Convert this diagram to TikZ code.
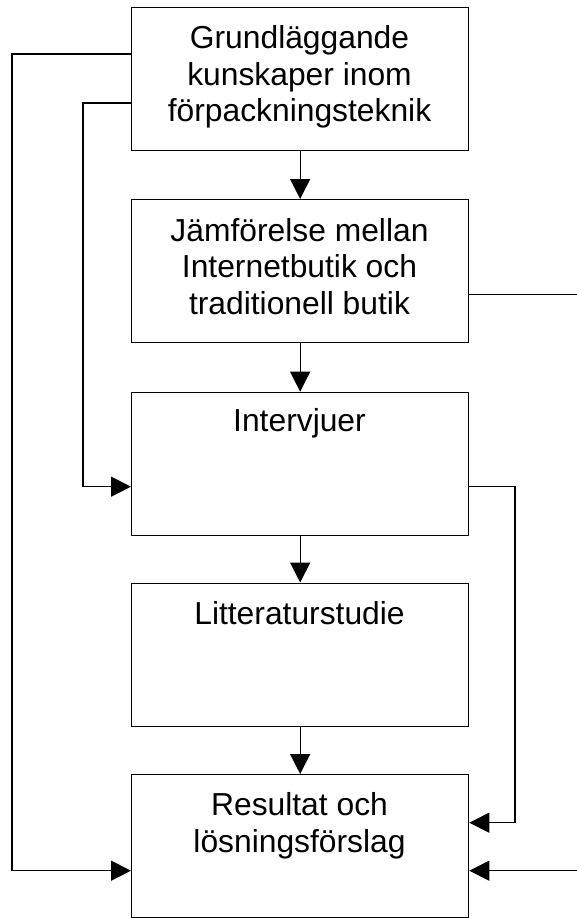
\documentclass[tikz,border=0pt]{standalone}
\usepackage{fontspec}
\setmainfont{Liberation Sans}
\usetikzlibrary{arrows.meta}
\begin{document}
\begin{tikzpicture}[x=1pt,y=-1pt,
  stage/.style={draw, line width=1.3pt, minimum width=337pt, minimum height=143pt,
                inner sep=0pt, anchor=north west},
  caption/.style={anchor=base, align=center, inner sep=0pt,
                  font=\fontsize{31.8}{36.7}\selectfont},
  link/.style={line width=1.3pt},
  flow/.style={link, -{Triangle[length=20pt,width=20pt]}}]
\useasboundingbox (0,0) rectangle (577,918);

% process stages
\node[stage] (b1) at (131,7) {};
\node[stage] (b2) at (131,199) {};
\node[stage] (b3) at (131,391.7) {};
\node[stage] (b4) at (131,582.5) {};
\node[stage] (b5) at (131,774) {};

% stage captions (base anchor = baseline of the last line)
\node[caption] (t1) at (299.5,121.8) {Grundläggande\\kunskaper inom\\förpackningsteknik};
\node[caption] (t2) at (299.5,314.5) {Jämförelse mellan\\Internetbutik och\\traditionell butik};
\node[caption] (t3) at (299.5,431.7) {Intervjuer};
\node[caption] (t4) at (299.5,624) {Litteraturstudie};
\node[caption] (t5) at (299.5,852.5) {Resultat och\\lösningsförslag};

% main sequence
\draw[flow] (b1.south) -- (b2.north);
\draw[flow] (b2.south) -- (b3.north);
\draw[flow] (b3.south) -- (b4.north);
\draw[flow] (b4.south) -- (b5.north);

% side lanes
\coordinate (lo) at (12,54);
\coordinate (li) at (83,103);
\coordinate (ro) at (577,294.3);
\coordinate (ri) at (515,486.7);
\coordinate (rd) at (515,822.7);
\coordinate (re) at (577,870.7);

\draw[flow] (b1.west |- lo) -- (lo) |- (b5.west |- re);
\draw[flow] (b1.west |- li) -- (li) |- (b3.west |- ri);
\draw[link] (b2.east |- ro) -- (ro);
\draw[flow] (b3.east |- ri) -- (ri) -- (rd) -- (b5.east |- rd);
\draw[flow] (re) -- (b5.east |- re);
\end{tikzpicture}
\end{document}
